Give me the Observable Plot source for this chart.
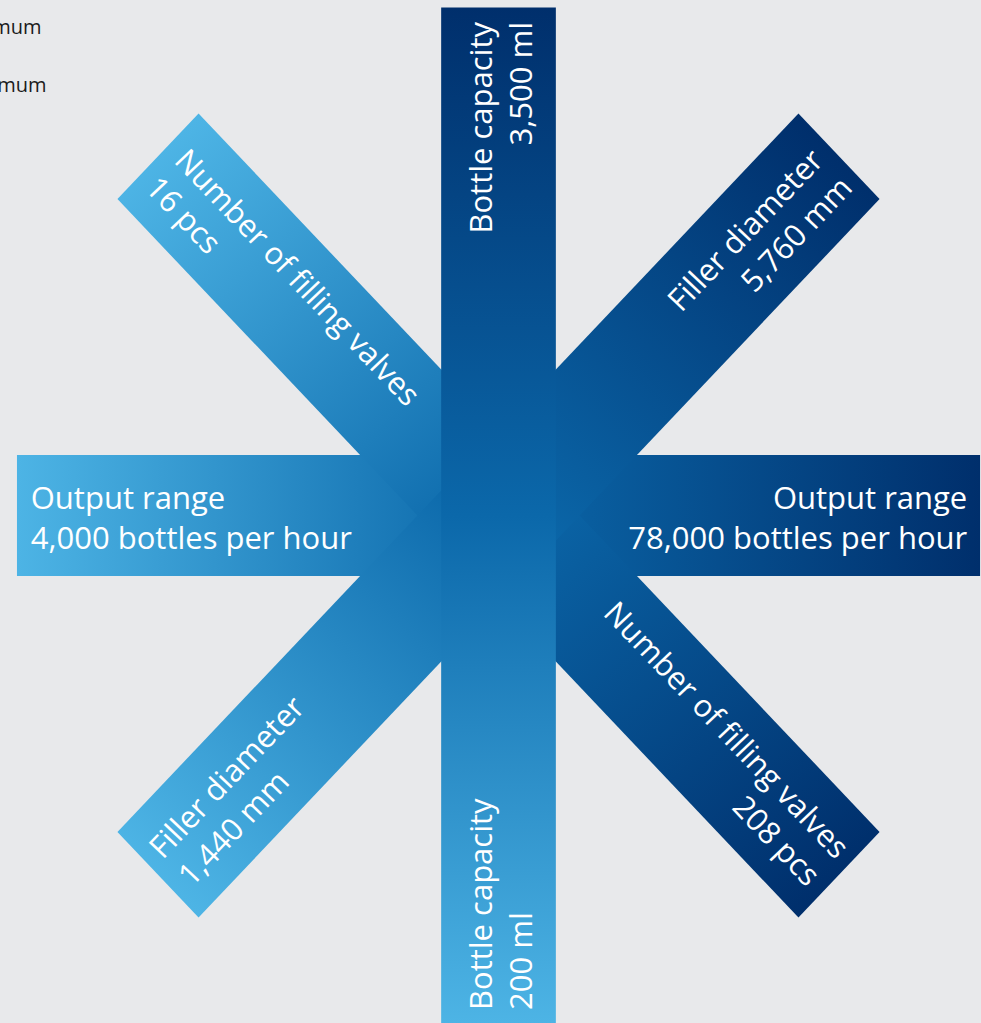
<!DOCTYPE html>
<html><head><meta charset="utf-8">
<script src="https://cdn.jsdelivr.net/npm/d3@7"></script>
<script src="https://cdn.jsdelivr.net/npm/@observablehq/plot@0.6"></script>
<style>html,body{margin:0;padding:0;background:#e8e9eb;overflow:hidden}</style>
</head><body><div id="chart"></div>
<script>
// ---- data ----
const categories = ["Output range", "Bottle capacity", "Filler diameter", "Number of filling valves"];
const minLabels = ["4,000 bottles per hour", "200 ml", "1,440 mm", "16 pcs"];
const maxLabels = ["78,000 bottles per hour", "3,500 ml", "5,760 mm", "208 pcs"];
const legendLabels = ["Minimum", "Maximum"];

// ---- layout ----
const W = 981, H = 1023;
const minAngle = [180, 270, 225, 135];   // direction of each category's minimum arm
const drawOrder = [0, 3, 2, 1];
const L = 508, B = 121, inset = 14;
const xDomain = [-525.9, 509.0], yDomain = [-507.5, 515.5];
const sx = W / (xDomain[1] - xDomain[0]), sy = H / (yDomain[1] - yDomain[0]);
const xs = Plot.scale({x: {domain: xDomain, range: [0, W]}});
const ys = Plot.scale({y: {domain: yDomain, range: [H, 0]}});
const light = "#4db4e5", mid = "#0b68aa", dark = "#002f6c";
const font = "Open Sans";

const bands = categories.map((c, i) => {
  const a = (minAngle[i] + 180) * Math.PI / 180;
  const ux = Math.cos(a), uy = Math.sin(a), nx = -uy, ny = ux;
  const pts = [-L, L].map(t => ({
    cat: c,
    x1: t * ux + B / 2 * nx, y1: t * uy + B / 2 * ny,
    x2: t * ux - B / 2 * nx, y2: t * uy - B / 2 * ny
  }));
  const rot = Math.atan2(-uy * sy, ux * sx) * 180 / Math.PI;
  return {i, c, ux, uy, pts, rot};
});

const minText = bands.map(b => ({x: -(L - inset) * b.ux, y: -(L - inset) * b.uy,
  text: b.c + "\n" + minLabels[b.i], rotate: b.rot}));
const maxText = bands.map(b => ({x: (L - inset) * b.ux, y: (L - inset) * b.uy,
  text: b.c + "\n" + maxLabels[b.i], rotate: b.rot}));

const textOpts = {x: "x", y: "y", text: "text", rotate: "rotate", lineAnchor: "middle",
  fill: "white", fontSize: 31, lineHeight: 1.29, fontFamily: font};

const plot = Plot.plot({
  width: W, height: H, margin: 0,
  x: {domain: xDomain, axis: null},
  y: {domain: yDomain, axis: null},
  style: {background: "#e8e9eb", fontFamily: font, overflow: "visible"},
  marks: [
    ...drawOrder.map(i => Plot.area(bands[i].pts, {x1: "x1", y1: "y1", x2: "x2", y2: "y2", fill: `url(#grad${i})`})),
    Plot.text(minText, {...textOpts, textAnchor: "start"}),
    Plot.text(maxText, {...textOpts, textAnchor: "end"}),
    Plot.text([legendLabels[0]], {frameAnchor: "top-left", textAnchor: "end", dx: 41, dy: 19, text: d => d, fill: "#1b1b1b", fontSize: 20, fontFamily: font}),
    Plot.text([legendLabels[1]], {frameAnchor: "top-left", textAnchor: "end", dx: 46, dy: 77, text: d => d, fill: "#1b1b1b", fontSize: 20, fontFamily: font})
  ]
});

// gradients along each band, min end light -> max end dark
const svg = d3.select(plot);
const defs = svg.insert("defs", ":first-child");
bands.forEach(b => {
  const g = defs.append("linearGradient").attr("id", `grad${b.i}`)
    .attr("gradientUnits", "userSpaceOnUse")
    .attr("x1", xs.apply(-L * b.ux)).attr("y1", ys.apply(-L * b.uy))
    .attr("x2", xs.apply(L * b.ux)).attr("y2", ys.apply(L * b.uy));
  g.append("stop").attr("offset", 0).attr("stop-color", light);
  g.append("stop").attr("offset", 0.5).attr("stop-color", mid);
  g.append("stop").attr("offset", 1).attr("stop-color", dark);
});

document.getElementById("chart").append(plot);
</script>
</body></html>
